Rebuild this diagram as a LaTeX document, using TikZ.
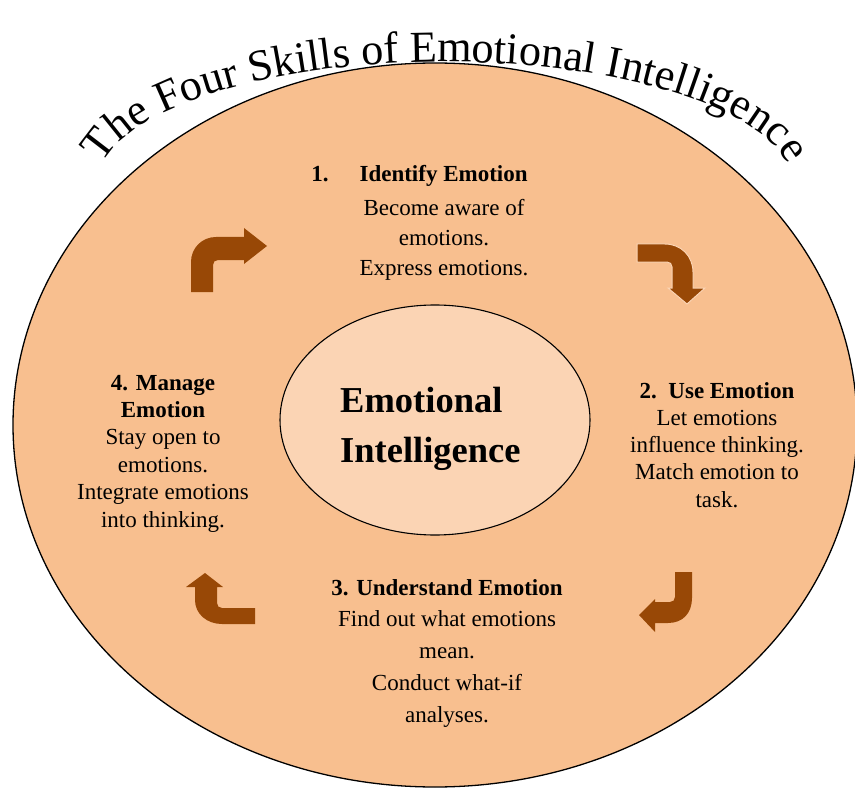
\documentclass[tikz,border=0pt]{standalone}
\usepackage{fontspec}
\setmainfont{Liberation Serif}
\usetikzlibrary{shapes.geometric,decorations.text}

\definecolor{peach}{RGB}{248,191,143}
\definecolor{paleface}{RGB}{251,212,180}
\definecolor{rust}{RGB}{152,72,6}

\tikzset{
  ring/.style={draw=black, line width=1.3pt, ellipse, fill=peach, inner sep=0pt},
  hub/.style={draw=black, line width=1.1pt, ellipse, fill=paleface, inner sep=0pt},
  hubtext/.style={align=left, inner sep=0pt, font=\bfseries\fontsize{36.5}{50}\selectfont},
  skill/.style={align=center, inner sep=0pt, anchor=base},
  bentarrow/.style={fill=rust},
}

\begin{document}
\begin{tikzpicture}[x=1pt, y=-1pt]
\useasboundingbox (0,0) rectangle (855,789);

% outer and inner ellipses
\node[ring, minimum width=844pt, minimum height=724pt] (outer) at (435,425) {};
\node[hub, minimum width=310pt, minimum height=230pt] (core) at (435,420) {};
% multi-line nodes: the base anchor sits on the last line
\node[hubtext, anchor=base west] (coretext) at (340,462) {Emotional\\Intelligence};

% arched title
\path[decorate, decoration={text along path, text align=center,
  text format delimiters={|}{|},
  text={|\fontsize{44.3}{50}\selectfont|The Four Skills of Emotional Intelligence}}]
  (445,185.7) ++(183:348 and 123.7)
  arc[start angle=183, end angle=357, x radius=348, y radius=123.7];

% the four skills
\node[skill, font=\bfseries\fontsize{23}{30.5}\selectfont] (s1head) at (419.5,182)
  {1.\hspace{31pt}Identify Emotion};
\node[skill, font=\fontsize{23}{30}\selectfont] (s1) at (444,275)
  {Become aware of\\emotions.\\Express emotions.};
\node[skill, font=\fontsize{23}{27.25}\selectfont] (s2) at (717,507)
  {\textbf{2.\ \ Use Emotion}\\Let emotions\\influence thinking.\\Match emotion to\\task.};
\node[skill, font=\fontsize{23}{31.75}\selectfont] (s3) at (447,722)
  {\textbf{3. Understand Emotion}\\Find out what emotions\\mean.\\Conduct what-if\\analyses.};
\node[skill, font=\fontsize{23}{27.4}\selectfont] (s4) at (163,527)
  {\textbf{4. Manage}\\\textbf{Emotion}\\Stay open to\\emotions.\\Integrate emotions\\into thinking.};

% bent arrows between the skills
\fill[bentarrow] (191,292) -- (191,262) .. controls (191,248) and (202,237) .. (216,237)
  -- (244,237) -- (244,228) -- (267,246) -- (244,264) -- (244,260) -- (218,260)
  .. controls (215,260) and (213,262) .. (213,265) -- (213,292) -- cycle;
\filldraw[bentarrow, draw=paleface, line width=1pt] (637,244) -- (665,244)
  .. controls (681,244) and (693,256) .. (693,272) -- (693,288) -- (705,288)
  -- (687,304) -- (668,288) -- (672,288) -- (672,267)
  .. controls (672,264) and (670,262) .. (667,262) -- (637,262) -- cycle;
\fill[bentarrow] (675,572) -- (692,572) -- (692,598) .. controls (692,613) and (683,623) .. (668,623)
  -- (655,623) -- (655,632) -- (639,615) -- (655,599) -- (655,602) -- (670,602)
  .. controls (673,602) and (675,600) .. (675,597) -- cycle;
\fill[bentarrow] (255,608) -- (255,624) -- (222,624) .. controls (207,624) and (195,614) .. (195,600)
  -- (195,587) -- (186,587) -- (205,573) -- (223,587) -- (217,587) -- (217,603)
  .. controls (217,606) and (219,608) .. (222,608) -- cycle;
\end{tikzpicture}
\end{document}
